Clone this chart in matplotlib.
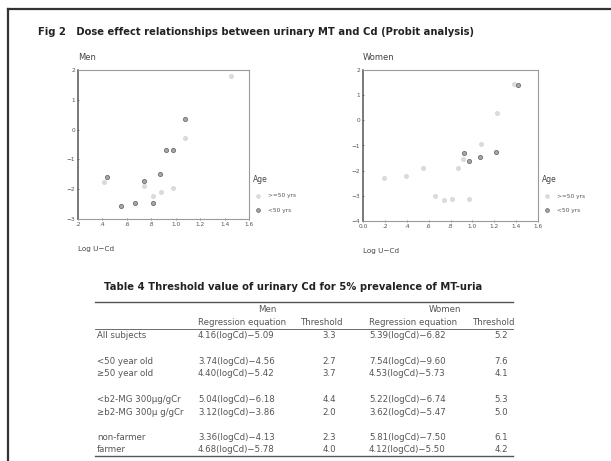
import matplotlib
matplotlib.use("Agg")
import matplotlib.pyplot as plt
from matplotlib.lines import Line2D

W, H = 611, 461

# Men scatter (probit vs log U-Cd)
men_old_x = [0.41, 0.74, 0.814, 0.877, 0.975, 1.073, 1.45]
men_old_y = [-1.77, -1.88, -2.24, -2.09, -1.95, -0.29, 1.80]
men_young_x = [0.44, 0.549, 0.664, 0.738, 0.814, 0.874, 0.918, 0.978, 1.073]
men_young_y = [-1.60, -2.55, -2.46, -1.71, -2.46, -1.50, -0.69, -0.69, 0.34]

# Women scatter
wom_old_x = [0.195, 0.39, 0.549, 0.655, 0.738, 0.811, 0.866, 0.915, 0.969, 1.076, 1.228, 1.38]
wom_old_y = [-2.30, -2.23, -1.90, -3.01, -3.17, -3.13, -1.90, -1.54, -3.12, -0.93, 0.28, 1.45]
wom_young_x = [0.927, 0.969, 1.067, 1.216, 1.417]
wom_young_y = [-1.31, -1.63, -1.44, -1.27, 1.39]

men_xticks = [0.2, 0.4, 0.6, 0.8, 1.0, 1.2, 1.4, 1.6]
men_xlabels = [".2", ".4", ".6", ".8", "1.0", "1.2", "1.4", "1.6"]
wom_xticks = [0.0, 0.2, 0.4, 0.6, 0.8, 1.0, 1.2, 1.4, 1.6]
wom_xlabels = ["0.0", ".2", ".4", ".6", ".8", "1.0", "1.2", "1.4", "1.6"]

# Table 4
row_labels = ["All subjects", "<50 year old", "\u226550 year old",
              "<b2-MG 300\u03bcg/gCr", "\u2265b2-MG 300\u03bc g/gCr",
              "non-farmer", "farmer"]
men_eq = ["4.16(logCd)\u22125.09", "3.74(logCd)\u22124.56", "4.40(logCd)\u22125.42",
          "5.04(logCd)\u22126.18", "3.12(logCd)\u22123.86", "3.36(logCd)\u22124.13",
          "4.68(logCd)\u22125.78"]
men_thr = ["3.3", "2.7", "3.7", "4.4", "2.0", "2.3", "4.0"]
wom_eq = ["5.39(logCd)\u22126.82", "7.54(logCd)\u22129.60", "4.53(logCd)\u22125.73",
          "5.22(logCd)\u22126.74", "3.62(logCd)\u22125.47", "5.81(logCd)\u22127.50",
          "4.12(logCd)\u22125.50"]
wom_thr = ["5.2", "7.6", "4.1", "5.3", "5.0", "6.1", "4.2"]
row_ys = [335, 361, 373, 399, 412, 437, 449]

LIGHT = "#dcdcdc"
TXT = "#555555"


def fx(x):
    return x / W


def fy(y):
    return 1 - y / H


fig = plt.figure(figsize=(W / 100, H / 100), dpi=100)

# page frame
fig.add_artist(Line2D([fx(8), fx(8)], [fy(9), 0], color="#333333", lw=1.6))
fig.add_artist(Line2D([fx(8), 1], [fy(9), fy(9)], color="#333333", lw=1.6))

fig.text(fx(38), fy(32), "Fig 2   Dose effect relationships between urinary MT and Cd (Probit analysis)",
         fontsize=7.2, fontweight="bold", color="#222222", va="center")


def panel(rect, name, ox, oy, yx, yy, ylim, xticks, xlabels, yticks, leg_y):
    ax = fig.add_axes(rect)
    ax.scatter(ox, oy, s=9, color=LIGHT, edgecolors="#cfcfcf", linewidths=0.4, label=">=50 yrs")
    ax.scatter(yx, yy, s=9, color="#a8a8a8", edgecolors="#6e6e6e", linewidths=0.6, label="<50 yrs")
    ax.set_xlim(xticks[0], 1.6)
    ax.set_ylim(*ylim)
    ax.set_xticks(xticks)
    ax.set_xticklabels(xlabels)
    ax.set_yticks(yticks)
    ax.set_yticklabels([str(t).replace("-", "\u2212") for t in yticks])
    ax.tick_params(labelsize=4.2, colors="#555555", length=2, width=0.5, pad=1, direction="inout")
    for s in ["top", "right", "bottom"]:
        ax.spines[s].set_color("#9a9a9a")
        ax.spines[s].set_linewidth(0.8)
    ax.spines["left"].set_color("#555555")
    ax.spines["left"].set_linewidth(1.1)
    leg = ax.legend(title="Age", loc="lower left", bbox_to_anchor=(1.0, leg_y), frameon=False,
                    fontsize=4.2, title_fontsize=5.5, handletextpad=0.6, labelspacing=1.6,
                    borderaxespad=0.2, markerscale=0.9)
    leg._legend_box.align = "left"
    for t in leg.get_texts():
        t.set_color("#555555")
    leg.get_title().set_color("#444444")
    fig.text(rect[0], rect[1] + rect[3] + fy(57) - fy(70), name, fontsize=6, color="#444444",
             va="center")
    fig.text(rect[0], rect[1] - (fy(219) - fy(249)), "Log U\u2212Cd", fontsize=5.2, color="#444444",
             va="center")
    return ax


panel([fx(78), fy(219), fx(249) - fx(78), fy(70) - fy(219)], "Men",
      men_old_x, men_old_y, men_young_x, men_young_y, (-3, 2),
      men_xticks, men_xlabels, [-3, -2, -1, 0, 1, 2], 0.02)
panel([fx(363), fy(221), fx(538) - fx(363), fy(70) - fy(221)], "Women",
      wom_old_x, wom_old_y, wom_young_x, wom_young_y, (-4, 2),
      wom_xticks, wom_xlabels, [-4, -3, -2, -1, 0, 1, 2], 0.03)

# table
fig.text(fx(104), fy(287), "Table 4 Threshold value of urinary Cd for 5% prevalence of MT-uria",
         fontsize=7.2, fontweight="bold", color="#222222", va="center")
for y, lw in [(302, 1.0), (329, 0.6), (456, 1.0)]:
    fig.add_artist(Line2D([fx(95), fx(513)], [fy(y), fy(y)], color="#555555", lw=lw))

hdr = dict(fontsize=6.2, color=TXT, va="center")
fig.text(fx(267), fy(309), "Men", ha="center", **hdr)
fig.text(fx(445), fy(309), "Women", ha="center", **hdr)
fig.text(fx(198), fy(322), "Regression equation", **hdr)
fig.text(fx(301), fy(322), "Threshold", **hdr)
fig.text(fx(369), fy(322), "Regression equation", **hdr)
fig.text(fx(473), fy(322), "Threshold", **hdr)

for y, lab, me, mt, we, wt in zip(row_ys, row_labels, men_eq, men_thr, wom_eq, wom_thr):
    fig.text(fx(97), fy(y), lab, **hdr)
    fig.text(fx(198), fy(y), me, **hdr)
    fig.text(fx(336), fy(y), mt, ha="right", **hdr)
    fig.text(fx(369), fy(y), we, **hdr)
    fig.text(fx(508), fy(y), wt, ha="right", **hdr)

fig.savefig("out.png", dpi=100)
